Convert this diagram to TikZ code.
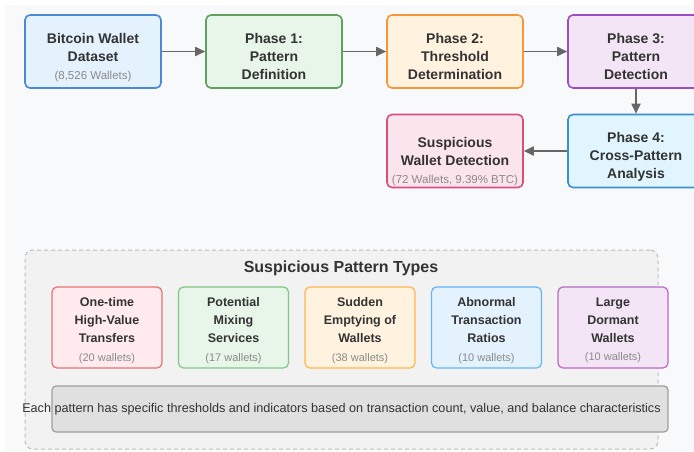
\documentclass[tikz,border=0pt]{standalone}
\usepackage{fontspec}
\setmainfont{Liberation Sans}
\usetikzlibrary{arrows.meta}

\definecolor{pagebg}{HTML}{F8F9FA}
\definecolor{ink}{HTML}{333333}
\definecolor{subgray}{HTML}{8A8A8A}
\definecolor{arrowgray}{HTML}{666666}
\definecolor{panelfill}{HTML}{F2F2F2}
\definecolor{panelline}{HTML}{BDBDBD}
% stage colours
\definecolor{blueF}{HTML}{E3F2FD}\definecolor{blueD}{HTML}{4A89D6}
\definecolor{greenF}{HTML}{E8F5E9}\definecolor{greenD}{HTML}{5DA15D}
\definecolor{orangeF}{HTML}{FFF3E0}\definecolor{orangeD}{HTML}{F5963A}
\definecolor{purpleF}{HTML}{F3E5F5}\definecolor{purpleD}{HTML}{9B4DC8}
\definecolor{cyanF}{HTML}{E1F5FE}\definecolor{cyanD}{HTML}{3A8FD0}
\definecolor{pinkF}{HTML}{FCE4EC}\definecolor{pinkD}{HTML}{D6507F}
% pattern colours
\definecolor{pRedF}{HTML}{FFEBEE}\definecolor{pRedD}{HTML}{E57373}
\definecolor{pGreenF}{HTML}{E8F5E9}\definecolor{pGreenD}{HTML}{81C784}
\definecolor{pOrangeF}{HTML}{FFF3E0}\definecolor{pOrangeD}{HTML}{FFB74D}
\definecolor{pBlueF}{HTML}{E3F2FD}\definecolor{pBlueD}{HTML}{64B5F6}
\definecolor{pPurpleF}{HTML}{F3E5F5}\definecolor{pPurpleD}{HTML}{BA68C8}
\definecolor{noteF}{HTML}{E0E0E0}\definecolor{noteD}{HTML}{9E9E9E}

\newcommand\stagesub[1]{{\fontsize{11.5}{13}\selectfont\mdseries\color{subgray}#1}}
\newcommand\patsub[1]{{\fontsize{11}{13}\selectfont\mdseries\color{subgray}#1}}

\begin{document}
\begin{tikzpicture}[x=1pt,y=-1pt,
  stage/.style={draw, line width=1.6pt, rounded corners=5pt,
    minimum width=136pt, minimum height=73pt, inner sep=0pt},
  stagetext/.style={align=center, text=ink,
    font=\fontsize{14}{17.8}\selectfont\bfseries},
  patbox/.style={draw, line width=1.2pt, rounded corners=5pt,
    minimum width=110pt, minimum height=81pt, inner sep=0pt},
  pattext/.style={align=center, text=ink,
    font=\fontsize{12.5}{18}\selectfont\bfseries},
  flow/.style={draw=arrowgray, line width=1.8pt,
    -{Triangle[length=10pt,width=9pt]}, shorten <=0.5pt}
]
\useasboundingbox (0,0) rectangle (694,451);
\clip (0,0) rectangle (694,451);
\fill[white] (0,0) rectangle (694,451);
\fill[pagebg] (5,5) rectangle (694,451);

% ---- workflow stages ----
\node[stage, fill=blueF, draw=blueD]     (ds)  at (93,51.5)  {};
\node[stage, fill=greenF, draw=greenD]   (p1)  at (274,51.5) {};
\node[stage, fill=orangeF, draw=orangeD] (p2)  at (455,51.5) {};
\node[stage, fill=purpleF, draw=purpleD] (p3)  at (636,51.5) {};
\node[stage, fill=cyanF, draw=cyanD]     (p4)  at (636,151)  {};
\node[stage, fill=pinkF, draw=pinkD]     (sus) at (455,151)  {};

\node[stagetext] (dst) at (93,57.5) {Bitcoin Wallet\\Dataset\\[0.5pt]\stagesub{(8,526 Wallets)}};
\node[stagetext] (p1t) at (274,56.5) {Phase 1:\\Pattern\\Definition};
\node[stagetext] (p2t) at (455,56.5) {Phase 2:\\Threshold\\Determination};
\node[stagetext] (p3t) at (636,56.5) {Phase 3:\\Pattern\\Detection};
\node[stagetext] (p4t) at (636,157) {Phase 4:\\Cross-Pattern\\Analysis};
\node[stagetext] (sust) at (455,161.5) {Suspicious\\Wallet Detection\\[0.5pt]\stagesub{(72 Wallets, 9.39\% BTC)}};

\draw[flow] (ds) -- (p1);
\draw[flow] (p1) -- (p2);
\draw[flow] (p2) -- (p3);
\draw[flow] (p3) -- (p4);
\draw[flow] (p4) -- (sus);

% ---- pattern panel ----
\node[draw=panelline, fill=panelfill, line width=1pt, dash pattern=on 4pt off 3pt,
      rounded corners=8pt, minimum width=633pt, minimum height=199pt, inner sep=0pt]
      (panel) at (341.5,349.5) {};
\node[text=ink, font=\fontsize{16}{19}\selectfont\bfseries] (title) at (341,268.5) {Suspicious Pattern Types};

\node[patbox, fill=pRedF, draw=pRedD]       (pa) at (107,327.5)   {};
\node[patbox, fill=pGreenF, draw=pGreenD]   (pb) at (233.5,327.5) {};
\node[patbox, fill=pOrangeF, draw=pOrangeD] (pc) at (360,327.5)   {};
\node[patbox, fill=pBlueF, draw=pBlueD]     (pd) at (486.5,327.5) {};
\node[patbox, fill=pPurpleF, draw=pPurpleD] (pe) at (613,327.5)   {};

\node[pattext] (pat) at (107,330.5)   {One-time\\High-Value\\Transfers\\[0.5pt]\patsub{(20 wallets)}};
\node[pattext] (pbt) at (233.5,330.5) {Potential\\Mixing\\Services\\[0.5pt]\patsub{(17 wallets)}};
\node[pattext] (pct) at (360,330.5)   {Sudden\\Emptying of\\Wallets\\[0.5pt]\patsub{(38 wallets)}};
\node[pattext] (pdt) at (486.5,330.5) {Abnormal\\Transaction\\Ratios\\[0.5pt]\patsub{(10 wallets)}};
\node[pattext] (pet) at (613,330.5)   {Large\\Dormant\\Wallets\\[0.5pt]\patsub{(10 wallets)}};

\node[draw=noteD, fill=noteF, line width=1.2pt, rounded corners=4pt,
      minimum width=616pt, minimum height=46pt, inner sep=0pt] (note) at (360,409) {};
\node[text=ink, font=\fontsize{12.65}{14}\selectfont] (notet) at (341.5,409.5)
  {Each pattern has specific thresholds and indicators based on transaction count, value, and balance characteristics};
\end{tikzpicture}
\end{document}
